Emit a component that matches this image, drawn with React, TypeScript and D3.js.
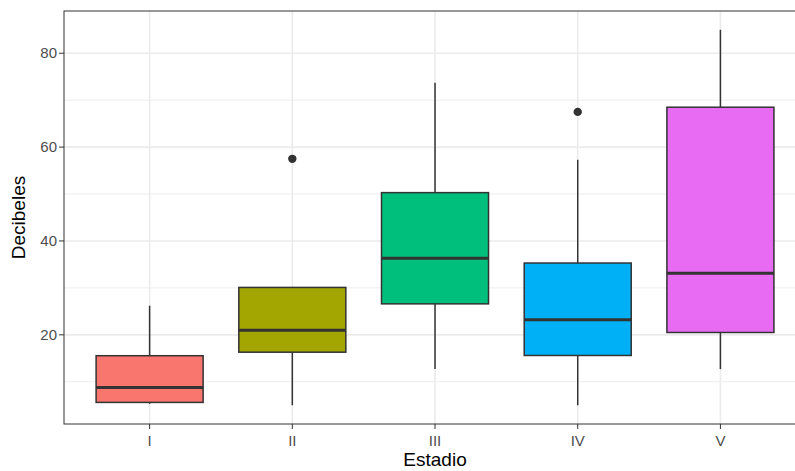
import React from "react";
import * as d3 from "d3";

const categories = ["I", "II", "III", "IV", "V"];
const colors = ["#F8766D", "#A3A500", "#00BF7D", "#00B0F6", "#E76BF3"];
const whiskerLow = [5.3, 5.0, 12.7, 5.0, 12.7];
const q1 = [5.6, 16.3, 26.6, 15.6, 20.5];
const median = [8.8, 21.0, 36.3, 23.2, 33.1];
const q3 = [15.55, 30.1, 50.3, 35.3, 68.5];
const whiskerHigh = [26.2, 30.1, 73.7, 57.3, 85.0];
const outliers: [string, number][] = [["II", 57.5], ["IV", 67.5]];
const yTicks = [20, 40, 60, 80];
const yMinor = [10, 30, 50, 70];

const W = 795, H = 471;
const left = 64, top = 11, bottom = 424;
const step = 142.7;
const right = left + 5.2 * step;

export default function App() {
  const allVals = [...whiskerLow, ...whiskerHigh, ...outliers.map(o => o[1])];
  const lo = d3.min(allVals)!, hi = d3.max(allVals)!;
  const pad = (hi - lo) * 0.05;
  const y = d3.scaleLinear().domain([lo - pad, hi + pad]).range([bottom, top]);
  const x = d3.scalePoint<string>().domain(categories).range([left, right]).padding(0.6);
  const bw = x.step() * 0.75;
  const font = "'Liberation Sans', Arial, Helvetica, sans-serif";
  return (
    <svg width={W} height={H} style={{ position: "absolute", left: 0, top: 0 }} fontFamily={font}>
      <rect x={left} y={top} width={right - left} height={bottom - top} fill="#fff" />
      {yMinor.map(v => (
        <line key={"m" + v} x1={left} x2={right} y1={y(v)} y2={y(v)} stroke="#EBEBEB" strokeWidth={0.9} />
      ))}
      {yTicks.map(v => (
        <line key={"g" + v} x1={left} x2={right} y1={y(v)} y2={y(v)} stroke="#EBEBEB" strokeWidth={1.6} />
      ))}
      {categories.map(c => (
        <line key={"gx" + c} x1={x(c)} x2={x(c)} y1={top} y2={bottom} stroke="#EBEBEB" strokeWidth={1.6} />
      ))}
      {categories.map((c, i) => {
        const cx = x(c)!;
        return (
          <g key={c}>
            <line x1={cx} x2={cx} y1={y(q3[i])} y2={y(whiskerHigh[i])} stroke="#333" strokeWidth={1.5} />
            <line x1={cx} x2={cx} y1={y(q1[i])} y2={y(whiskerLow[i])} stroke="#333" strokeWidth={1.5} />
            <rect x={cx - bw / 2} y={y(q3[i])} width={bw} height={y(q1[i]) - y(q3[i])} fill={colors[i]} stroke="#333" strokeWidth={1.5} />
            <line x1={cx - bw / 2} x2={cx + bw / 2} y1={y(median[i])} y2={y(median[i])} stroke="#333" strokeWidth={3} />
          </g>
        );
      })}
      {outliers.map(([c, v], i) => (
        <circle key={"o" + i} cx={x(c)} cy={y(v)} r={4.2} fill="#333" />
      ))}
      <rect x={left} y={top} width={right - left} height={bottom - top} fill="none" stroke="#333" strokeWidth={1} />
      {yTicks.map(v => (
        <g key={"t" + v}>
          <line x1={left - 5} x2={left} y1={y(v)} y2={y(v)} stroke="#333" strokeWidth={1} />
          <text x={left - 7} y={y(v)} dy="0.35em" textAnchor="end" fontSize={15} fill="#4D4D4D">{v}</text>
        </g>
      ))}
      {categories.map(c => (
        <g key={"xt" + c}>
          <line x1={x(c)} x2={x(c)} y1={bottom} y2={bottom + 5} stroke="#333" strokeWidth={1} />
          <text x={x(c)} y={bottom + 22} textAnchor="middle" fontSize={15} fill="#4D4D4D">{c}</text>
        </g>
      ))}
      <text x={(left + right) / 2} y={466} textAnchor="middle" fontSize={19} fill="#000">Estadio</text>
      <text transform={`translate(25,${(top + bottom) / 2}) rotate(-90)`} textAnchor="middle" fontSize={19} fill="#000">Decibeles</text>
    </svg>
  );
}
